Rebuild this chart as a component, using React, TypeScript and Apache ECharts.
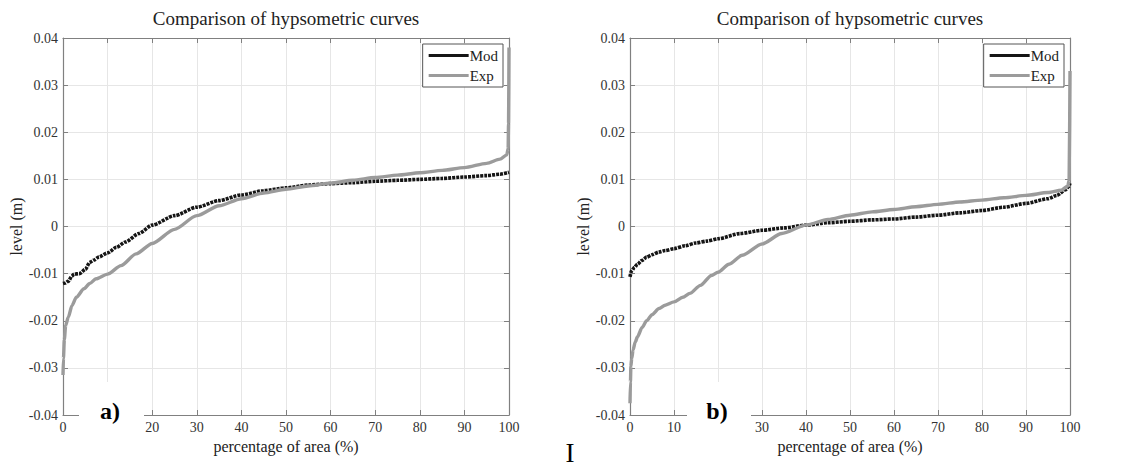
import React, { useEffect, useRef } from "react";
import * as echarts from "echarts";

// ---- data ----
const xTicks = [0, 10, 20, 30, 40, 50, 60, 70, 80, 90, 100];
const hiddenXTick = [10, 20]; // tick label covered by the panel letter in each panel
const yTicks = [-0.04, -0.03, -0.02, -0.01, 0, 0.01, 0.02, 0.03, 0.04];
const seriesNames = ["Mod", "Exp"];
const panelTitle = "Comparison of hypsometric curves";
const panelLabels = ["a)", "b)"];

// panel a)
const modAPct = [0, 0.5, 1.2, 2, 2.5, 3.7, 5, 6, 7, 8, 10, 12, 14, 17, 20, 25, 30, 35, 40, 45, 50, 55, 60, 65, 70, 75, 80, 85, 90, 95, 98, 100];
const modALevel = [-0.0121, -0.012, -0.0116, -0.0105, -0.0101, -0.01, -0.0091, -0.0076, -0.0071, -0.0065, -0.0056, -0.0044, -0.0033, -0.0015, 0.0003, 0.0023, 0.0041, 0.0055, 0.0067, 0.0076, 0.0082, 0.0088, 0.0091, 0.0093, 0.0096, 0.0098, 0.01, 0.0102, 0.0105, 0.0108, 0.0111, 0.0115];
const expAPct = [0, 0.1, 0.3, 0.6, 1.2, 2, 3, 4.7, 6, 7.4, 10, 13, 16.4, 20, 25, 30, 35, 40, 45, 50, 55, 60, 65, 70, 75, 80, 85, 90, 95, 98, 99.5, 99.8, 99.9, 100];
const expALevel = [-0.0315, -0.028, -0.024, -0.021, -0.0192, -0.0168, -0.015, -0.0132, -0.0121, -0.0111, -0.0101, -0.0083, -0.0058, -0.0036, -0.0006, 0.0023, 0.0044, 0.0059, 0.0071, 0.0079, 0.0086, 0.0092, 0.0098, 0.0104, 0.0109, 0.0114, 0.0119, 0.0125, 0.0134, 0.0143, 0.0152, 0.0165, 0.022, 0.038];

// panel b)
const modBPct = [0, 0.35, 1, 1.7, 2.7, 3.8, 5, 6.6, 8, 10, 12.5, 15, 17.5, 20, 25, 30, 35, 40, 45, 50, 55, 60, 65, 70, 75, 80, 85, 90, 95, 97, 99, 99.7, 100];
const modBLevel = [-0.0107, -0.0094, -0.0087, -0.008, -0.0072, -0.0065, -0.006, -0.0054, -0.0051, -0.0047, -0.0041, -0.0035, -0.0031, -0.0026, -0.0015, -0.0008, -0.0003, 0.0003, 0.0008, 0.0011, 0.0014, 0.0016, 0.002, 0.0024, 0.0029, 0.0034, 0.0041, 0.0049, 0.0059, 0.0066, 0.0078, 0.0085, 0.0092];
const expBPct = [0, 0.1, 0.2, 0.4, 0.7, 1.2, 1.7, 2.7, 3.8, 5, 6.6, 8, 10, 12, 13.6, 16, 18.5, 20, 22.5, 25.5, 30, 34.5, 40, 45, 50, 55, 60, 65, 70, 75, 80, 85, 90, 95, 98, 99.5, 99.8, 100];
const expBLevel = [-0.0375, -0.033, -0.0297, -0.028, -0.0262, -0.0245, -0.0234, -0.0215, -0.02, -0.0187, -0.0174, -0.0167, -0.016, -0.015, -0.0142, -0.0125, -0.0104, -0.0097, -0.008, -0.0061, -0.0037, -0.0015, 0.0003, 0.0015, 0.0024, 0.0031, 0.0036, 0.0042, 0.0047, 0.0052, 0.0056, 0.0061, 0.0066, 0.0072, 0.0077, 0.0086, 0.0098, 0.033];

const FONT = "Liberation Serif";

const zip = (xs: number[], ys: number[]) => xs.map((x, i) => [x, ys[i]]);

const grids = [
  { left: 63, top: 38, width: 446, height: 377, cx: 286, labelX: 110, box: [79, 144] },
  { left: 630, top: 38, width: 440, height: 377, cx: 850, labelX: 717, box: [687, 751] },
];

export default function App() {
  const ref = useRef<HTMLDivElement>(null);
  useEffect(() => {
    document.body.style.margin = "0";
    const chart = echarts.init(ref.current!, null, { renderer: "svg" });
    const axisColor = "#808080";
    const xAxes: any[] = [];
    const yAxes: any[] = [];
    grids.forEach((g, gi) => {
      xAxes.push({
        type: "value", gridIndex: gi, position: "bottom", min: 0, max: 100, interval: 10,
        name: "percentage of area (%)", nameLocation: "middle", nameGap: 23,
        nameTextStyle: { fontFamily: FONT, fontSize: 16, color: "#222" },
        axisLine: { show: true, onZero: false, lineStyle: { color: axisColor, width: 1.2 } },
        axisTick: { show: true, inside: true, length: 5, lineStyle: { color: axisColor } },
        axisLabel: {
          margin: 5, fontFamily: FONT, fontSize: 14, color: "#333",
          formatter: (v: number) => (xTicks.includes(v) && v !== hiddenXTick[gi] ? String(v) : ""),
        },
        splitLine: { show: true, lineStyle: { color: "#e6e6e6", width: 1 } },
      });
      xAxes.push({
        type: "value", gridIndex: gi, position: "top", min: 0, max: 100, interval: 10,
        axisLine: { show: true, onZero: false, lineStyle: { color: axisColor, width: 1.2 } },
        axisTick: { show: true, inside: true, length: 5, lineStyle: { color: axisColor } },
        axisLabel: { show: false }, splitLine: { show: false },
      });
      yAxes.push({
        type: "value", gridIndex: gi, position: "left", min: -0.04, max: 0.04, interval: 0.01,
        name: "level (m)", nameLocation: "middle", nameGap: 37,
        nameTextStyle: { fontFamily: FONT, fontSize: 16, color: "#222" },
        axisLine: { show: true, onZero: false, lineStyle: { color: axisColor, width: 1.2 } },
        axisTick: { show: true, inside: true, length: 5, lineStyle: { color: axisColor } },
        axisLabel: {
          margin: 5, fontFamily: FONT, fontSize: 14, color: "#333",
          formatter: (v: number) => {
            const t = yTicks.find((y) => Math.abs(y - v) < 1e-9);
            if (t === undefined) return "";
            return Math.abs(t) < 1e-9 ? "0" : t.toFixed(2);
          },
        },
        splitLine: { show: true, lineStyle: { color: "#e6e6e6", width: 1 } },
      });
      yAxes.push({
        type: "value", gridIndex: gi, position: "right", min: -0.04, max: 0.04, interval: 0.01,
        axisLine: { show: true, onZero: false, lineStyle: { color: axisColor, width: 1.2 } },
        axisTick: { show: true, inside: true, length: 5, lineStyle: { color: axisColor } },
        axisLabel: { show: false }, splitLine: { show: false },
      });
    });

    const modStyle = { color: "#151515", width: 3.6, type: [3, 1] as any };
    const expStyle = { color: "#9b9b9b", width: 3.4, type: "solid" };
    const mk = (name: string, gi: number, data: number[][], style: any) => ({
      name, type: "line", xAxisIndex: gi * 2, yAxisIndex: gi * 2, data,
      symbol: "none", showSymbol: false, smooth: 0.25, smoothMonotone: "x",
      lineStyle: style, itemStyle: { color: style.color }, emphasis: { disabled: true },
    });
    const series = [
      mk(seriesNames[0], 0, zip(modAPct, modALevel), modStyle),
      mk(seriesNames[1], 0, zip(expAPct, expALevel), expStyle),
      mk(seriesNames[0], 1, zip(modBPct, modBLevel), modStyle),
      mk(seriesNames[1], 1, zip(expBPct, expBLevel), expStyle),
    ];

    const legendRight = [1128 - 503, 1128 - 1064];
    const legends = legendRight.map((r) => ({
      data: seriesNames.map((n) => ({ name: n, icon: "path://M0,0 L40,0 L40,3 L0,3 Z" })),
      right: r, top: 44, orient: "vertical",
      itemWidth: 40, itemHeight: 3.5, itemGap: 5, padding: [4, 5, 4, 6],
      borderColor: "#555", borderWidth: 1, backgroundColor: "#fff",
      selectedMode: false,
      textStyle: { fontFamily: FONT, fontSize: 15, color: "#222", padding: [0, 0, 0, -4] },
    }));

    const graphics: any[] = [];
    grids.forEach((g, gi) => {
      graphics.push({
        type: "text", x: g.cx, y: 18, z: 100,
        style: { text: panelTitle, align: "center", verticalAlign: "middle", fontFamily: FONT, fontSize: 19, fill: "#222" },
      });
      graphics.push({
        type: "rect", z: 100, shape: { x: g.box[0], y: 382, width: g.box[1] - g.box[0], height: 56 },
        style: { fill: "#fff" },
      });
      graphics.push({
        type: "text", x: g.labelX, y: 411, z: 101,
        style: { text: panelLabels[gi], align: "center", verticalAlign: "middle", fontFamily: FONT, fontSize: 24, fontWeight: "bold", fill: "#000" },
      });
    });
    graphics.push({
      type: "text", x: 570, y: 453, z: 101,
      style: { text: "I", align: "center", verticalAlign: "middle", fontFamily: FONT, fontSize: 27, fill: "#000" },
    });

    chart.setOption({
      animation: false,
      backgroundColor: "#fff",
      grid: grids.map((g) => ({ left: g.left, top: g.top, width: g.width, height: g.height, containLabel: false })),
      xAxis: xAxes,
      yAxis: yAxes,
      legend: legends,
      series,
      graphic: graphics,
    });
    return () => chart.dispose();
  }, []);
  return <div ref={ref} style={{ width: 1128, height: 467 }} />;
}
